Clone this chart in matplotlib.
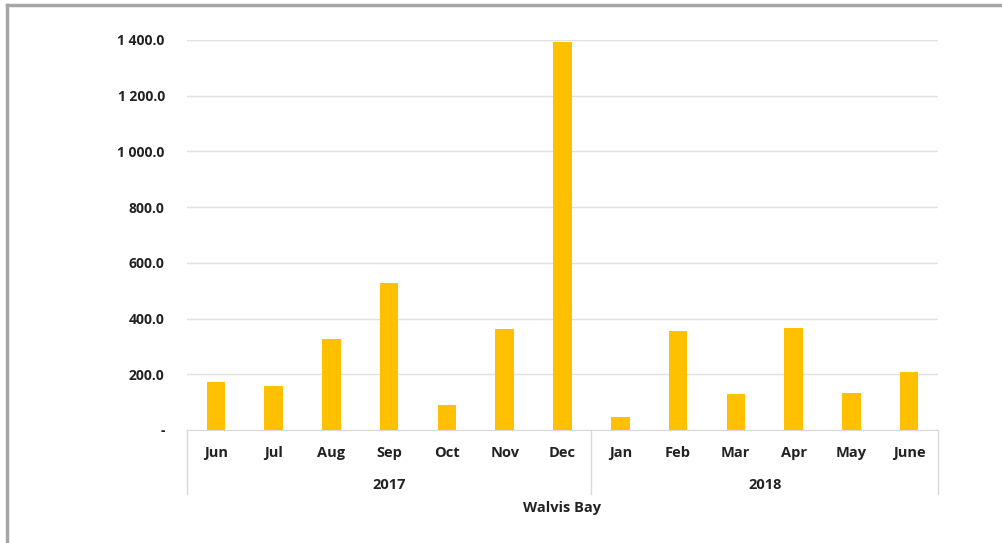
import matplotlib.pyplot as plt
import matplotlib.transforms as mtransforms
from matplotlib.ticker import FuncFormatter

# data
months = ["Jun", "Jul", "Aug", "Sep", "Oct", "Nov", "Dec",
          "Jan", "Feb", "Mar", "Apr", "May", "June"]
values = [172, 158, 327, 528, 90, 362, 1393, 47, 355, 129, 366, 133, 208]
years = ["2017", "2018"]
year_counts = [7, 6]
group_label = "Walvis Bay"

plt.rcParams['font.family'] = ['Open Sans', 'DejaVu Sans']

fig = plt.figure(figsize=(10.03, 5.43), dpi=100)
ax = fig.add_axes([187/1003, 1-430/543, 751/1003, 390/543])

x = list(range(len(months)))
ax.bar(x, values, width=0.32, color="#FFC000", zorder=3)

ax.set_xlim(-0.5, len(months) - 0.5)
ax.set_ylim(0, 1400)
ax.set_yticks(range(0, 1401, 200))

def fmt(v, pos):
    if v == 0:
        return "-"
    return "{:,.1f}".format(v).replace(",", " ")

ax.yaxis.set_major_formatter(FuncFormatter(fmt))
ax.grid(axis="y", color="#e0e0e0", linewidth=1, zorder=0)
ax.tick_params(axis="y", length=0, pad=16, labelsize=10)
for lab in ax.get_yticklabels():
    lab.set_fontweight("bold")
    lab.set_color("#222222")

ax.set_xticks([])
for s in ["top", "right", "left"]:
    ax.spines[s].set_visible(False)
ax.spines["bottom"].set_color("#d9d9d9")

# multi-level category axis
trans = mtransforms.blended_transform_factory(ax.transData, ax.transAxes)
for i, m in enumerate(months):
    ax.text(i, -0.058, m, transform=trans, ha="center", va="center",
            fontsize=10.5, fontweight="bold", color="#222222")

bounds = [-0.5]
for c in year_counts:
    bounds.append(bounds[-1] + c)
for b in bounds:
    ax.plot([b, b], [0, -0.163], transform=trans, color="#d9d9d9",
            linewidth=1, clip_on=False)
for j, y in enumerate(years):
    mid = (bounds[j] + bounds[j + 1]) / 2
    ax.text(mid, -0.140, y, transform=trans, ha="center", va="center",
            fontsize=10.5, fontweight="bold", color="#222222")

ax.text(0.5, -0.200, group_label, transform=ax.transAxes, ha="center",
        va="center", fontsize=10.5, fontweight="bold", color="#222222")

# outer frame pieces visible in the crop
fig.add_artist(plt.Line2D([7/1003, 7/1003], [0, 1-5/543],
                          transform=fig.transFigure, color="#a6a6a6", linewidth=2.5))
fig.add_artist(plt.Line2D([7/1003, 1], [1-5/543, 1-5/543],
                          transform=fig.transFigure, color="#a6a6a6", linewidth=2.5))

plt.savefig("out.png", dpi=100)
